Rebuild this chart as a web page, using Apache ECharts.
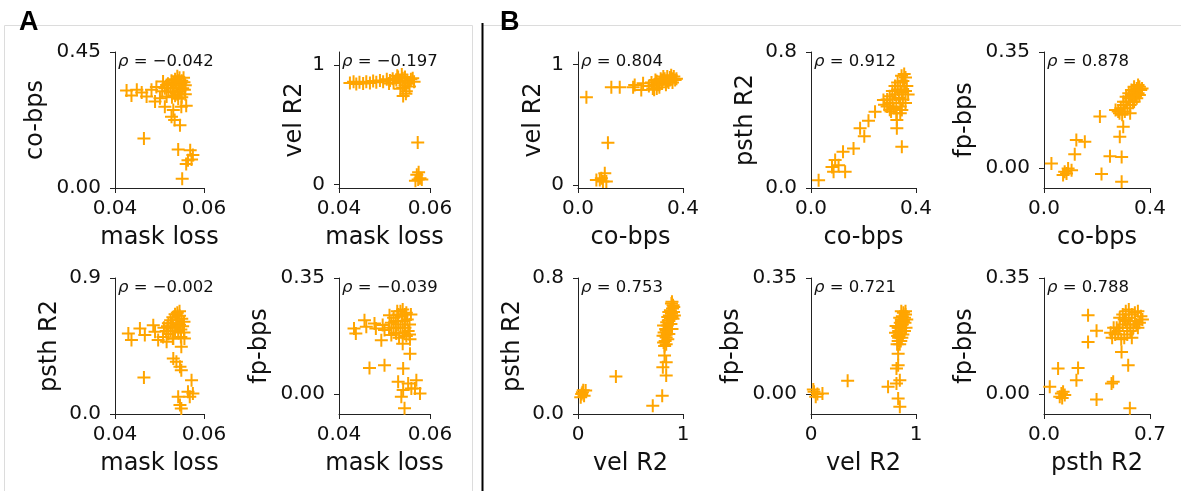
<!DOCTYPE html>
<html lang="en">
<head>
<meta charset="utf-8">
<title>Metric correlations</title>
</head>
<body style="margin: 0; background: #fff">
<div id="container" style="width: 1181px; height: 491px"></div>

<script type="text/javascript" src="https://cdn.jsdelivr.net/npm/echarts@6/dist/echarts.min.js"></script>

<script type="text/javascript">

// ---- data: one [x, y] list per panel ----
var maskCo = [
  [0.0426,0.323],[0.0437,0.306],[0.0449,0.325],[0.0460,0.316],[0.0471,0.303],[0.0482,0.325],
  [0.0493,0.334],[0.0490,0.286],[0.0501,0.297],[0.0508,0.352],[0.0516,0.341],[0.0516,0.303],
  [0.0512,0.269],[0.0531,0.258],[0.0527,0.236],[0.0534,0.225],[0.0546,0.208],[0.0549,0.269],
  [0.0560,0.272],[0.0465,0.164],[0.0542,0.127],[0.0569,0.125],[0.0575,0.109],[0.0564,0.092],
  [0.0572,0.094],[0.0560,0.079],[0.0551,0.031],
  [0.0525,0.330],[0.0530,0.345],[0.0535,0.360],[0.0540,0.370],[0.0545,0.365],[0.0550,0.355],
  [0.0555,0.350],[0.0558,0.340],[0.0552,0.330],[0.0545,0.320],[0.0540,0.310],[0.0535,0.305],
  [0.0530,0.318],[0.0538,0.340],[0.0548,0.345],[0.0556,0.325],[0.0558,0.310],[0.0550,0.300],
  [0.0542,0.295],[0.0528,0.300],[0.0520,0.320],[0.0532,0.330],[0.0546,0.333],[0.0554,0.365],
  [0.0543,0.355],[0.0536,0.350],[0.0527,0.355],[0.0519,0.345],[0.0512,0.330],[0.0506,0.320]
];
var maskVel = [
  [0.0424,0.850],[0.0432,0.860],[0.0438,0.840],[0.0445,0.855],[0.0453,0.845],[0.0460,0.860],
  [0.0468,0.850],[0.0475,0.865],[0.0482,0.855],[0.0490,0.870],[0.0497,0.860],[0.0505,0.880],
  [0.0512,0.870],[0.0518,0.885],[0.0526,0.875],[0.0530,0.900],[0.0535,0.860],[0.0540,0.890],
  [0.0545,0.900],[0.0550,0.870],[0.0552,0.850],[0.0558,0.880],[0.0555,0.820],[0.0545,0.830],
  [0.0540,0.810],[0.0548,0.780],[0.0541,0.740],[0.0547,0.760],[0.0535,0.800],[0.0565,0.860],
  [0.0562,0.890],[0.0538,0.920],[0.0528,0.910],[0.0520,0.850],[0.0510,0.845],
  [0.0573,0.350],[0.0571,0.080],[0.0574,0.040],[0.0578,0.050],[0.0568,0.030],[0.0582,0.040],
  [0.0575,0.100]
];
var maskPsth = [
  [0.0430,0.533],[0.0437,0.489],[0.0456,0.566],[0.0467,0.522],[0.0486,0.588],[0.0490,0.544],
  [0.0497,0.489],[0.0508,0.510],[0.0516,0.478],[0.0531,0.500],[0.0549,0.445],[0.0538,0.345],
  [0.0546,0.312],[0.0549,0.290],[0.0531,0.367],[0.0465,0.242],[0.0572,0.224],[0.0564,0.147],
  [0.0575,0.136],[0.0568,0.114],[0.0542,0.114],[0.0546,0.059],[0.0549,0.037],
  [0.0520,0.600],[0.0525,0.620],[0.0530,0.640],[0.0535,0.660],[0.0540,0.670],[0.0545,0.650],
  [0.0550,0.630],[0.0555,0.610],[0.0552,0.580],[0.0548,0.560],[0.0542,0.540],[0.0535,0.550],
  [0.0530,0.570],[0.0525,0.550],[0.0520,0.530],[0.0540,0.600],[0.0545,0.590],[0.0538,0.620],
  [0.0555,0.540],[0.0556,0.500],[0.0548,0.510],[0.0530,0.500],[0.0515,0.550],[0.0510,0.570],
  [0.0545,0.680],[0.0538,0.580],[0.0528,0.600],[0.0518,0.580]
];
var maskFp = [
  [0.0433,0.198],[0.0437,0.183],[0.0456,0.223],[0.0460,0.203],[0.0478,0.213],[0.0481,0.198],
  [0.0496,0.208],[0.0500,0.193],[0.0493,0.162],[0.0511,0.238],[0.0515,0.178],[0.0526,0.183],
  [0.0540,0.152],[0.0556,0.122],[0.0467,0.079],[0.0500,0.087],[0.0541,0.077],[0.0530,0.037],
  [0.0552,0.032],[0.0570,0.042],[0.0567,0.017],[0.0578,0.002],[0.0537,-0.008],[0.0544,-0.043],
  [0.0559,0.017],[0.0541,0.012],
  [0.0520,0.200],[0.0525,0.220],[0.0530,0.240],[0.0535,0.250],[0.0540,0.255],[0.0545,0.240],
  [0.0550,0.225],[0.0555,0.210],[0.0552,0.190],[0.0548,0.175],[0.0540,0.185],[0.0535,0.200],
  [0.0530,0.210],[0.0525,0.185],[0.0520,0.230],[0.0515,0.215],[0.0540,0.220],[0.0545,0.200],
  [0.0555,0.180],[0.0558,0.240],[0.0538,0.235],[0.0528,0.250],[0.0548,0.245],[0.0510,0.200],
  [0.0556,0.165],[0.0532,0.170]
];
var coVel = [
  [0.032,0.727],[0.127,0.810],[0.159,0.810],[0.210,0.810],[0.216,0.829],[0.241,0.787],
  [0.248,0.843],[0.114,0.351],[0.102,0.097],[0.083,0.041],[0.095,0.028],[0.070,0.041],
  [0.089,0.055],[0.108,0.028],
  [0.270,0.820],[0.280,0.850],[0.290,0.830],[0.300,0.860],[0.310,0.840],[0.320,0.870],
  [0.330,0.880],[0.340,0.900],[0.350,0.890],[0.360,0.880],[0.370,0.870],[0.355,0.910],
  [0.340,0.860],[0.320,0.840],[0.310,0.810],[0.300,0.800],[0.290,0.790],[0.325,0.900],
  [0.345,0.850],[0.360,0.850],[0.335,0.830],[0.315,0.880],[0.305,0.830],[0.295,0.870],
  [0.285,0.800],[0.365,0.900],[0.375,0.880],[0.350,0.870]
];
var coPsth = [
  [0.244,0.449],[0.276,0.518],[0.219,0.396],[0.187,0.351],[0.203,0.305],[0.162,0.233],
  [0.122,0.213],[0.092,0.164],[0.080,0.124],[0.105,0.134],[0.130,0.095],[0.086,0.095],
  [0.029,0.045],[0.327,0.400],[0.327,0.351],[0.346,0.242],[0.346,0.459],
  [0.290,0.480],[0.300,0.500],[0.310,0.520],[0.320,0.550],[0.330,0.580],[0.340,0.600],
  [0.350,0.630],[0.360,0.650],[0.355,0.600],[0.345,0.560],[0.335,0.530],[0.325,0.500],
  [0.315,0.470],[0.305,0.450],[0.300,0.460],[0.340,0.480],[0.350,0.520],[0.360,0.570],
  [0.365,0.600],[0.370,0.550],[0.330,0.620],[0.320,0.600],[0.310,0.570],[0.300,0.540],
  [0.290,0.520],[0.280,0.490],[0.345,0.660],[0.355,0.670],[0.325,0.440],[0.340,0.440],
  [0.360,0.500]
];
var coFp = [
  [0.211,0.155],[0.299,0.124],[0.286,0.094],[0.293,0.033],[0.249,0.035],[0.217,-0.019],
  [0.293,-0.042],[0.122,0.084],[0.154,0.079],[0.116,0.041],[0.028,0.013],[0.078,-0.012],
  [0.091,-0.002],[0.104,-0.007],[0.072,-0.022],[0.085,-0.017],
  [0.280,0.170],[0.290,0.180],[0.300,0.190],[0.310,0.200],[0.320,0.210],[0.330,0.220],
  [0.340,0.230],[0.350,0.240],[0.360,0.245],[0.365,0.235],[0.355,0.225],[0.345,0.215],
  [0.335,0.200],[0.325,0.190],[0.315,0.180],[0.305,0.170],[0.295,0.160],[0.285,0.165],
  [0.310,0.215],[0.320,0.225],[0.330,0.235],[0.340,0.245],[0.350,0.210],[0.360,0.220],
  [0.300,0.200],[0.270,0.175],[0.340,0.200],[0.325,0.165],[0.370,0.240],[0.355,0.250]
];
var velPsth = [
  [0.042,0.128],[0.073,0.138],[0.026,0.098],[0.058,0.108],[0.035,0.118],[0.050,0.140],
  [0.361,0.220],[0.712,0.049],[0.802,0.108],[0.840,0.226],[0.824,0.344],[0.840,0.305],
  [0.808,0.275],
  [0.830,0.430],[0.840,0.450],[0.850,0.470],[0.860,0.500],[0.870,0.530],[0.880,0.560],
  [0.890,0.590],[0.900,0.620],[0.905,0.640],[0.890,0.650],[0.880,0.610],[0.870,0.580],
  [0.860,0.550],[0.850,0.520],[0.840,0.490],[0.830,0.460],[0.815,0.420],[0.825,0.400],
  [0.840,0.410],[0.855,0.440],[0.865,0.470],[0.875,0.500],[0.885,0.530],[0.895,0.570],
  [0.910,0.600],[0.905,0.560],[0.895,0.660],[0.865,0.600],[0.855,0.570],[0.845,0.540],
  [0.835,0.500],[0.895,0.500],[0.810,0.460],[0.815,0.520],[0.918,0.580],[0.912,0.630],
  [0.820,0.480]
];
var velFp = [
  [0.830,0.122],[0.830,0.087],[0.814,0.077],[0.734,0.022],[0.814,0.032],[0.846,0.042],
  [0.830,-0.013],[0.846,-0.038],[0.349,0.040],[0.029,0.007],[0.061,0.000],[0.109,0.002],
  [0.045,-0.008],[0.022,0.014],
  [0.820,0.150],[0.830,0.160],[0.835,0.170],[0.840,0.180],[0.850,0.190],[0.860,0.200],
  [0.870,0.210],[0.880,0.220],[0.890,0.230],[0.900,0.240],[0.880,0.245],[0.870,0.235],
  [0.860,0.225],[0.850,0.215],[0.840,0.200],[0.835,0.190],[0.825,0.175],[0.895,0.215],
  [0.905,0.200],[0.890,0.190],[0.875,0.180],[0.865,0.170],[0.855,0.160],[0.845,0.150],
  [0.860,0.250],[0.900,0.250],[0.845,0.230],[0.830,0.200],[0.805,0.185],[0.810,0.205],
  [0.912,0.225]
];
var psthFp = [
  [0.291,0.238],[0.347,0.191],[0.291,0.157],[0.512,0.127],[0.556,0.087],[0.457,0.037],
  [0.446,0.032],[0.347,-0.016],[0.567,-0.043],[0.093,0.077],[0.225,0.079],[0.214,0.042],
  [0.038,0.022],[0.115,0.002],[0.137,-0.003],[0.104,-0.008],[0.126,0.007],[0.120,-0.012],
  [0.450,0.170],[0.470,0.180],[0.490,0.190],[0.500,0.200],[0.520,0.210],[0.540,0.220],
  [0.560,0.230],[0.580,0.240],[0.600,0.245],[0.620,0.250],[0.640,0.235],[0.650,0.225],
  [0.630,0.215],[0.610,0.210],[0.590,0.200],[0.570,0.190],[0.550,0.180],[0.530,0.170],
  [0.510,0.165],[0.480,0.200],[0.500,0.230],[0.520,0.240],[0.540,0.250],[0.560,0.255],
  [0.600,0.220],[0.620,0.200],[0.580,0.170],[0.550,0.200],[0.570,0.210],[0.460,0.200],
  [0.440,0.185],[0.530,0.225]
];

var panelData = [maskCo, maskVel, maskPsth, maskFp, coVel, coPsth, coFp, velPsth, velFp, psthFp];
var xNames = ['mask loss', 'mask loss', 'mask loss', 'mask loss', 'co-bps', 'co-bps', 'co-bps', 'vel R2', 'vel R2', 'psth R2'];
var yNames = ['co-bps', 'vel R2', 'psth R2', 'fp-bps', 'vel R2', 'psth R2', 'fp-bps', 'psth R2', 'fp-bps', 'fp-bps'];
var rhoValues = ['\u22120.042', '\u22120.197', '\u22120.002', '\u22120.039', '0.804', '0.912', '0.878', '0.753', '0.721', '0.788'];

var xRanges = [[0.04, 0.06], [0.04, 0.06], [0.04, 0.06], [0.04, 0.06], [0, 0.4], [0, 0.4], [0, 0.4], [0, 1], [0, 1], [0, 0.7]];
var yRanges = [[0, 0.45], [-0.031, 1.109], [0, 0.9], [-0.06, 0.35], [-0.025, 1.102], [0, 0.8], [-0.061, 0.35], [0, 0.8], [-0.06, 0.35], [-0.06, 0.35]];
var xTicks = [[0.04, 0.06], [0.04, 0.06], [0.04, 0.06], [0.04, 0.06], [0, 0.4], [0, 0.4], [0, 0.4], [0, 1], [0, 1], [0, 0.7]];
var xTickLabels = [['0.04', '0.06'], ['0.04', '0.06'], ['0.04', '0.06'], ['0.04', '0.06'], ['0.0', '0.4'], ['0.0', '0.4'], ['0.0', '0.4'], ['0', '1'], ['0', '1'], ['0.0', '0.7']];
var yTicks = [[0, 0.45], [0, 1], [0, 0.9], [0, 0.35], [0, 1], [0, 0.8], [0, 0.35], [0, 0.8], [0, 0.35], [0, 0.35]];
var yTickLabels = [['0.00', '0.45'], ['0', '1'], ['0.0', '0.9'], ['0.00', '0.35'], ['0', '1'], ['0.0', '0.8'], ['0.00', '0.35'], ['0.0', '0.8'], ['0.00', '0.35'], ['0.00', '0.35']];

// ---- layout (pixels) ----
var boxes = [
  [115, 52, 89, 136], [339, 52, 91, 136], [115, 278, 89, 136], [339, 278, 91, 136],
  [578, 52, 105, 136], [811, 52, 105, 136], [1044, 52, 106, 136],
  [578, 278, 105, 136], [811, 278, 105, 136], [1044, 278, 106, 136]
];
var nameGapByLabelLength = { 1: 32, 3: 53, 4: 67 };

var FONT = 'DejaVu Sans';
var INK = '#111';
var AXIS = '#222';
var ORANGE = '#FFA500';
var PLUS = 'path://M-1,-6.5H1V-1H6.5V1H1V6.5H-1V1H-6.5V-1H-1Z';

function pickLabel(ticks, labels) {
  return function (v) {
    var best = 0;
    for (var k = 1; k < ticks.length; k++) {
      if (Math.abs(ticks[k] - v) < Math.abs(ticks[best] - v)) best = k;
    }
    return labels[best];
  };
}

var grids = [], xAxes = [], yAxes = [], series = [], graphics = [];

panelData.forEach(function (points, i) {
  var b = boxes[i];
  grids.push({ left: b[0], top: b[1], width: b[2], height: b[3], outerBoundsMode: 'none' });

  xAxes.push({
    type: 'value', gridIndex: i,
    min: xRanges[i][0], max: xRanges[i][1],
    name: xNames[i], nameLocation: 'middle', nameGap: 38,
    nameTextStyle: { fontSize: 24, fontFamily: FONT, color: INK },
    axisLine: { show: true, onZero: false, lineStyle: { color: AXIS, width: 1 } },
    axisTick: { show: true, length: 5, customValues: xTicks[i], lineStyle: { color: AXIS } },
    axisLabel: {
      customValues: xTicks[i], margin: 11, fontSize: 20, fontFamily: FONT, color: INK,
      formatter: pickLabel(xTicks[i], xTickLabels[i])
    },
    splitLine: { show: false }
  });

  yAxes.push({
    type: 'value', gridIndex: i,
    min: yRanges[i][0], max: yRanges[i][1],
    name: yNames[i], nameLocation: 'middle', nameRotate: 90,
    nameGap: nameGapByLabelLength[yTickLabels[i][1].length],
    nameTextStyle: { fontSize: 24, fontFamily: FONT, color: INK },
    axisLine: { show: true, onZero: false, lineStyle: { color: AXIS, width: 1 } },
    axisTick: { show: true, length: 5, customValues: yTicks[i], lineStyle: { color: AXIS } },
    axisLabel: {
      customValues: yTicks[i], margin: 14, fontSize: 20, fontFamily: FONT, color: INK,
      formatter: pickLabel(yTicks[i], yTickLabels[i])
    },
    splitLine: { show: false }
  });

  series.push({
    type: 'scatter', xAxisIndex: i, yAxisIndex: i,
    data: points,
    symbol: PLUS, symbolSize: 13,
    itemStyle: { color: ORANGE, opacity: 1 },
    clip: false,
    silent: true
  });

  graphics.push({
    type: 'text', left: b[0] + 3, top: b[1] + 1,
    style: {
      text: '{i|\u03c1} = ' + rhoValues[i],
      fontSize: 16.5, fontFamily: FONT, fill: INK,
      rich: { i: { fontStyle: 'italic', fontSize: 16.5, fontFamily: FONT } }
    },
    z: 10
  });
});

// panel frames, divider and panel letters
var GRAY = '#dcdcdc';
graphics.push(
  { type: 'line', shape: { x1: 4.5, y1: 25.5, x2: 4.5, y2: 491 }, style: { stroke: GRAY, lineWidth: 1 } },
  { type: 'line', shape: { x1: 4.5, y1: 25.5, x2: 472.5, y2: 25.5 }, style: { stroke: GRAY, lineWidth: 1 } },
  { type: 'line', shape: { x1: 472.5, y1: 25.5, x2: 472.5, y2: 491 }, style: { stroke: GRAY, lineWidth: 1 } },
  { type: 'line', shape: { x1: 483, y1: 25.5, x2: 1181, y2: 25.5 }, style: { stroke: GRAY, lineWidth: 1 } },
  { type: 'line', shape: { x1: 482.5, y1: 23, x2: 482.5, y2: 491 }, style: { stroke: '#000', lineWidth: 2 } },
  { type: 'text', left: 19, top: 9, style: { text: 'A', font: 'bold 27px "Liberation Sans"', fill: '#000' }, z: 10 },
  { type: 'text', left: 500, top: 9, style: { text: 'B', font: 'bold 27px "Liberation Sans"', fill: '#000' }, z: 10 }
);

var myChart = echarts.init(document.getElementById('container'), null, { renderer: 'canvas' });
myChart.setOption({
  animation: false,
  backgroundColor: '#fff',
  grid: grids,
  xAxis: xAxes,
  yAxis: yAxes,
  series: series,
  graphic: graphics
});

window.addEventListener('resize', myChart.resize);
</script>
</body>
</html>
